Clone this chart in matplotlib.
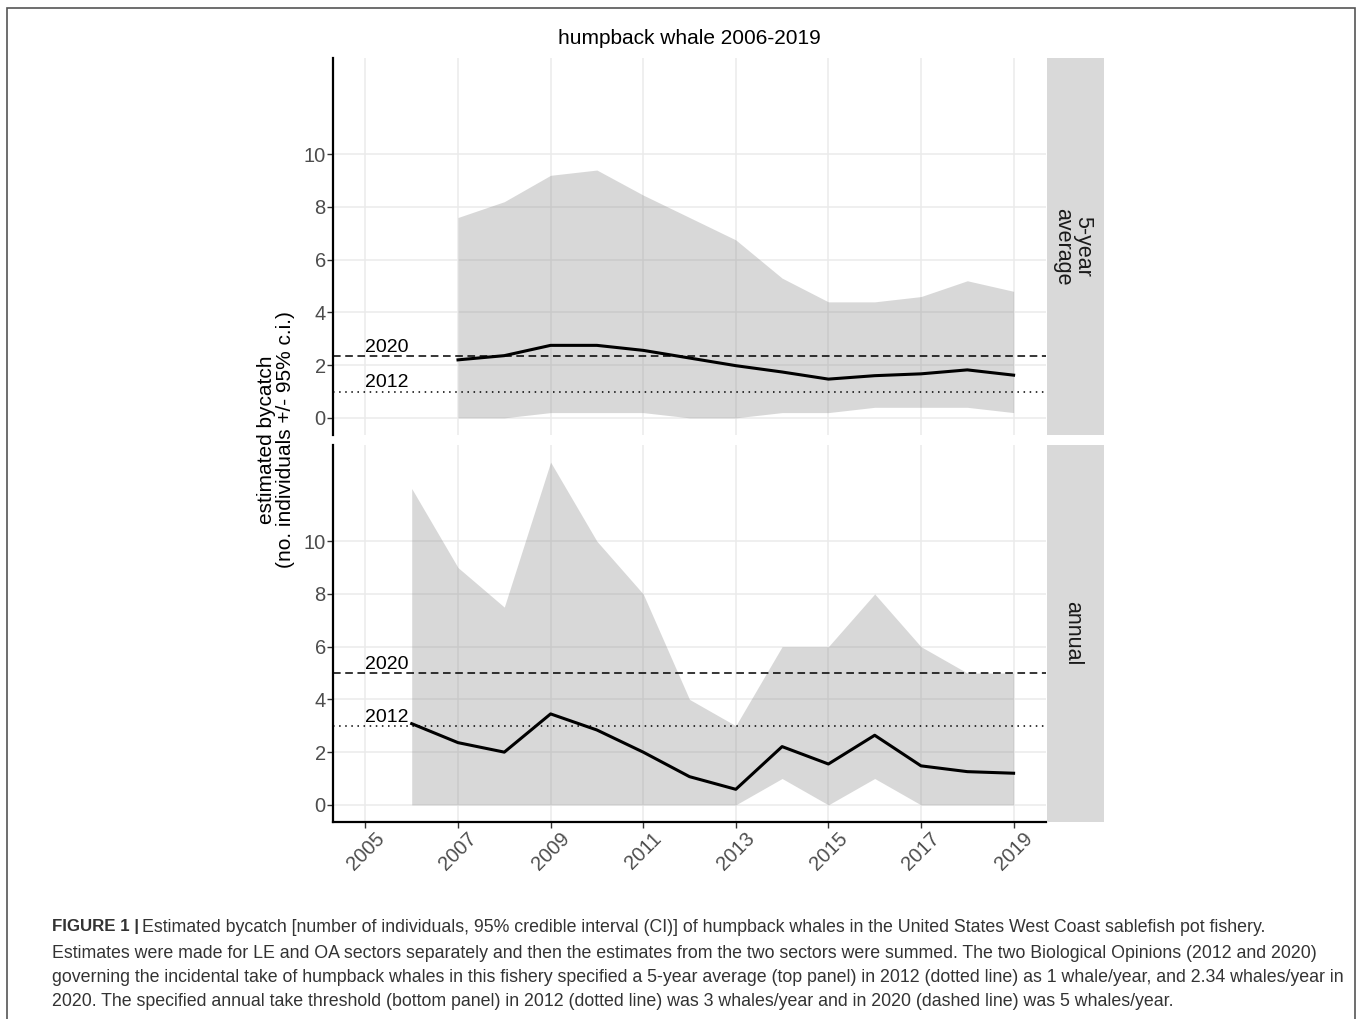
import matplotlib.pyplot as plt
from matplotlib.patches import Rectangle

plt.rcParams['font.family'] = ['Liberation Sans', 'DejaVu Sans']

# 5-year average panel
avg_years = [2007, 2008, 2009, 2010, 2011, 2012, 2013, 2014, 2015, 2016, 2017, 2018, 2019]
avg_median = [2.2, 2.36, 2.75, 2.75, 2.56, 2.27, 1.98, 1.74, 1.47, 1.6, 1.67, 1.82, 1.62]
avg_lower = [0, 0, 0.2, 0.2, 0.2, 0, 0, 0.2, 0.2, 0.4, 0.4, 0.4, 0.2]
avg_upper = [7.6, 8.2, 9.2, 9.4, 8.45, 7.6, 6.75, 5.3, 4.4, 4.4, 4.6, 5.2, 4.8]

# annual panel
ann_years = [2006, 2007, 2008, 2009, 2010, 2011, 2012, 2013, 2014, 2015, 2016, 2017, 2018, 2019]
ann_median = [3.08, 2.36, 2.0, 3.45, 2.84, 2.0, 1.07, 0.59, 2.21, 1.55, 2.64, 1.48, 1.26, 1.2]
ann_lower = [0, 0, 0, 0, 0, 0, 0, 0, 1, 0, 1, 0, 0, 0]
ann_upper = [12, 9, 7.5, 13, 10, 8, 4, 3, 6, 6, 8, 6, 5, 5]

# take thresholds from the two Biological Opinions
avg_limits = {'2020': 2.34, '2012': 1}
ann_limits = {'2020': 5, '2012': 3}

panel_labels = ['5-year\naverage', 'annual']
x_ticks = [2005, 2007, 2009, 2011, 2013, 2015, 2017, 2019]
y_ticks = [0, 2, 4, 6, 8, 10]

caption = [
    'Estimated bycatch [number of individuals, 95% credible interval (CI)] of humpback whales in the United States West Coast sablefish pot fishery.',
    'Estimates were made for LE and OA sectors separately and then the estimates from the two sectors were summed. The two Biological Opinions (2012 and 2020)',
    'governing the incidental take of humpback whales in this fishery specified a 5-year average (top panel) in 2012 (dotted line) as 1 whale/year, and 2.34 whales/year in',
    '2020. The specified annual take threshold (bottom panel) in 2012 (dotted line) was 3 whales/year and in 2020 (dashed line) was 5 whales/year.',
]

W, H = 1358, 1019
fig = plt.figure(figsize=(W / 100, H / 100), dpi=100)


def px_axes(left, top, right, bottom):
    # pixel box -> figure fraction axes
    return fig.add_axes([left / W, 1 - bottom / H, (right - left) / W, (bottom - top) / H])


panels = [
    (58, 435, avg_years, avg_median, avg_lower, avg_upper, avg_limits),
    (445, 822, ann_years, ann_median, ann_lower, ann_upper, ann_limits),
]

axes = []
for i, (top, bottom, yrs, med, lo, hi, limits) in enumerate(panels):
    ax = px_axes(333, top, 1046, bottom)
    axes.append(ax)
    ax.set_xlim(2004.3, 2019.7)
    ax.set_ylim(-0.65, 13.65)
    ax.set_xticks(x_ticks)
    ax.set_yticks(y_ticks)
    ax.grid(True, color='#EBEBEB', lw=1.1)
    ax.set_axisbelow(True)
    for side in ['top', 'right']:
        ax.spines[side].set_visible(False)
    ax.spines['left'].set_linewidth(1.6)
    ax.spines['bottom'].set_linewidth(1.6)
    ax.tick_params(axis='both', colors='#333333', labelcolor='#4D4D4D',
                   labelsize=14.5, length=4, width=1, pad=1.2)

    ax.fill_between(yrs, lo, hi, color='#7F7F7F', alpha=0.3, lw=0, zorder=2)
    ax.plot(yrs, med, color='black', lw=2.2, zorder=4)

    ax.axhline(limits['2020'], color='black', lw=1.1, ls=(0, (5, 3)), zorder=3)
    ax.axhline(limits['2012'], color='black', lw=1.1, ls=(0, (1, 3)), zorder=3)
    for name, val in limits.items():
        ax.annotate(name, (2005, val), xytext=(0, 3), textcoords='offset points',
                    ha='left', va='baseline', fontsize=14, color='black')

    if i == 0:
        ax.spines['bottom'].set_visible(False)
        ax.tick_params(axis='x', length=0, labelbottom=False)
    else:
        plt.setp(ax.get_xticklabels(), rotation=45, ha='center', va='top')

    # facet strip on the right
    sax = px_axes(1047, top, 1104, bottom)
    sax.set_facecolor('#D9D9D9')
    sax.set_xticks([])
    sax.set_yticks([])
    for sp in sax.spines.values():
        sp.set_visible(False)
    sax.text(0.45, 0.5, panel_labels[i], rotation=-90, ha='center', va='center',
             fontsize=15.5, color='#1A1A1A', transform=sax.transAxes, linespacing=0.95)

fig.text(689.5 / W, 1 - 38 / H, 'humpback whale 2006-2019', ha='center', va='center',
         fontsize=15, color='black')
fig.text(276 / W, 1 - 440 / H, 'estimated bycatch\n(no. individuals +/- 95% c.i.)',
         rotation=90, ha='center', va='center', fontsize=15, color='black',
         linespacing=1.05)

# outer frame
fig.patches.append(Rectangle((7 / W, -0.02), 1348 / W, 1.02 - 8 / H, transform=fig.transFigure,
                             fill=False, edgecolor='#555555', lw=1.2))

# caption
line_y = [927, 953, 978, 1002]
bold = fig.text(52 / W, 1 - line_y[0] / H, 'FIGURE 1 |', fontsize=12.2, fontweight='bold',
                color='#333333', va='center', ha='left')
fig.canvas.draw()
bb = bold.get_window_extent()
fig.text((bb.x1 + 3) / W, 1 - line_y[0] / H, caption[0], fontsize=12.8, color='#333333',
         va='center', ha='left')
for k in range(1, 4):
    fig.text(52 / W, 1 - line_y[k] / H, caption[k], fontsize=12.8, color='#333333',
             va='center', ha='left')

fig.savefig('out.png', dpi=100)
